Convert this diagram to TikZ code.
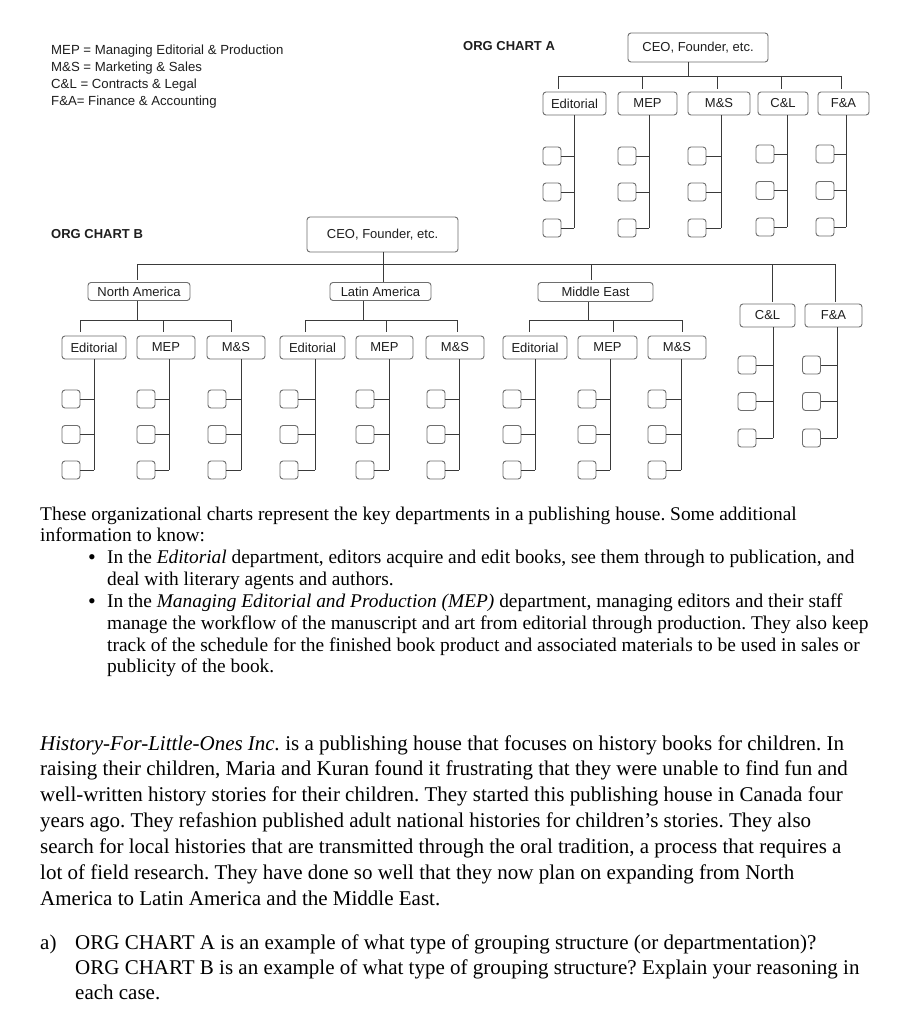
\documentclass[tikz,border=0pt]{standalone}
\usepackage{fontspec}
\setmainfont{Liberation Serif}
\newfontfamily\diagfont{Liberation Sans}
\frenchspacing
\definecolor{boxgray}{HTML}{6E6E6E}
\definecolor{linegray}{HTML}{3A3A3A}
\definecolor{inkgray}{HTML}{1E1E1E}
\tikzset{
  x=1pt, y=1pt,
  box/.style={draw=boxgray, rounded corners=3pt, line width=0.9pt, inner sep=0pt,
    font=\diagfont\fontsize{13}{14}\selectfont, text=inkgray},
  staffbox/.style={draw=boxgray, rounded corners=3pt, line width=0.9pt, inner sep=0pt,
    minimum width=18pt, minimum height=18pt},
  conn/.style={draw=linegray, line width=0.9pt},
  legend/.style={anchor=base west, inner sep=0pt, text=inkgray,
    font=\diagfont\fontsize{13.2}{14}\selectfont},
  charttitle/.style={anchor=base west, inner sep=0pt, text=inkgray,
    font=\diagfont\bfseries\fontsize{13}{15}\selectfont},
  pone/.style={anchor=base west, inner sep=0pt, font=\frenchspacing\fontsize{19.4}{22}\selectfont},
  ptwo/.style={anchor=base west, inner sep=0pt, font=\frenchspacing\fontsize{21}{26}\selectfont},
  bulletmark/.style={anchor=base west, inner sep=0pt, font=\fontsize{22}{22}\selectfont},
}
% #1 name, #2 x centre, #3 y centre (down), #4 width, #5 height, #6 text
\newcommand\dbox[6]{\node[box, minimum width=#4pt, minimum height=#5pt] (#1) at (#2,-#3) {#6};}
% #1 name, #2 parent, #3 box x centre, #4 trunk x, #5 first row y, #6 step
\newcommand\staffcol[6]{%
  \coordinate (#1-x) at (#4,0);
  \foreach \i in {0,1,2}{
    \node[staffbox] (#1-\i) at (#3,{-(#5+\i*#6)}) {};
    \draw[conn] (#1-\i.east) -- (#1-\i.east -| #1-x);
  }
  \draw[conn] (#2.south -| #1-x) -- (#1-2.east -| #1-x);
}
% tick from bus coordinate #1 down to box #2, stopping #3 pt above it
\newcommand\tick[3]{\draw[conn] (#1) -- ([yshift=#3pt]#2.north -| #1);}
\begin{document}
\begin{tikzpicture}
\useasboundingbox[fill=white] (0,0) rectangle (909,-1024);

% ---------- legend ----------
\node[legend] (l1) at (51,-55) {MEP = Managing Editorial \& Production};
\node[legend] (l2) at (51,-72) {M\&S = Marketing \& Sales};
\node[legend] (l3) at (51,-89) {C\&L = Contracts \& Legal};
\node[legend] (l4) at (51,-106) {F\&A= Finance \& Accounting};

% ---------- ORG CHART A ----------
\node[charttitle] (ta) at (463,-51) {ORG CHART A};
\dbox{aCEO}{698}{47.5}{140}{29}{CEO, Founder, etc.}
\dbox{aEd}{574.5}{103.5}{63}{23}{Editorial}
\dbox{aMEP}{647.5}{103.5}{59}{23}{MEP}
\dbox{aMS}{719}{103.5}{62}{23}{M\&S}
\dbox{aCL}{783}{103.5}{50}{23}{C\&L}
\dbox{aFA}{843.5}{103.5}{51}{23}{F\&A}
\coordinate (aB0) at (688,-76);
\coordinate (aB1) at (558,-76);
\coordinate (aB2) at (642,-76);
\coordinate (aB3) at (717,-76);
\coordinate (aB4) at (781,-76);
\coordinate (aB5) at (841,-76);
\draw[conn] (aCEO.south -| aB0) -- (aB0);
\draw[conn] (aB1) -- (aB5);
\tick{aB1}{aEd}{3}
\tick{aB2}{aMEP}{3}
\tick{aB3}{aMS}{3}
\tick{aB4}{aCL}{3}
\tick{aB5}{aFA}{3}
\staffcol{aEdS}{aEd}{552}{574}{156}{36}
\staffcol{aMEPS}{aMEP}{627}{649}{156}{36}
\staffcol{aMSS}{aMS}{697}{721}{156}{36}
\staffcol{aCLS}{aCL}{765}{787}{154}{36.5}
\staffcol{aFAS}{aFA}{825}{846}{154}{36.5}

% ---------- ORG CHART B ----------
\node[charttitle] (tb) at (51,-238) {ORG CHART B};
\dbox{bCEO}{382.5}{234.5}{151}{35}{CEO, Founder, etc.}
\dbox{bNA}{139}{291.5}{102}{18}{North America}
\dbox{bLA}{380.5}{291.5}{101}{18}{Latin America}
\dbox{bME}{595.5}{292}{115}{19}{Middle East}
\dbox{bCL}{767.5}{315.5}{55}{23}{C\&L}
\dbox{bFA}{833.5}{315.5}{57}{23}{F\&A}
\coordinate (bB0) at (383,-264);
\coordinate (bB1) at (137,-264);
\coordinate (bB3) at (591,-264);
\coordinate (bB4) at (772,-264);
\coordinate (bB5) at (835,-264);
\draw[conn] (bCEO.south -| bB0) -- (bLA.north -| bB0);
\draw[conn] (bB1) -- (bB5);
\tick{bB1}{bNA}{2}
\tick{bB3}{bME}{2}
\tick{bB4}{bCL}{2}
\tick{bB5}{bFA}{2}

% regional departments
\dbox{naEd}{94}{347.5}{64}{23}{Editorial}
\dbox{naMEP}{166}{347.5}{58}{23}{MEP}
\dbox{naMS}{236}{347.5}{58}{23}{M\&S}
\dbox{laEd}{312.5}{347.5}{65}{23}{Editorial}
\dbox{laMEP}{384.5}{347.5}{57}{23}{MEP}
\dbox{laMS}{455}{347.5}{58}{23}{M\&S}
\dbox{meEd}{535}{347.5}{64}{23}{Editorial}
\dbox{meMEP}{607.5}{347.5}{59}{23}{MEP}
\dbox{meMS}{677}{347.5}{58}{23}{M\&S}

\coordinate (naD) at (137,-320);
\coordinate (naB1) at (80,-320);
\coordinate (naB2) at (163,-320);
\coordinate (naB3) at (231,-320);
\coordinate (laD) at (363,-320);
\coordinate (laB1) at (305,-320);
\coordinate (laB2) at (386,-320);
\coordinate (laB3) at (457,-320);
\coordinate (meD) at (588,-320);
\coordinate (meB1) at (529,-320);
\coordinate (meB2) at (613,-320);
\coordinate (meB3) at (682,-320);
\draw[conn] (bNA.south -| naD) -- (naD);
\draw[conn] (bLA.south -| laD) -- (laD);
\draw[conn] (bME.south -| meD) -- (meD);
\draw[conn] (naB1) -- (naB3);
\draw[conn] (laB1) -- (laB3);
\draw[conn] (meB1) -- (meB3);
\tick{naB1}{naEd}{4}
\tick{naB2}{naMEP}{4}
\tick{naB3}{naMS}{4}
\tick{laB1}{laEd}{4}
\tick{laB2}{laMEP}{4}
\tick{laB3}{laMS}{4}
\tick{meB1}{meEd}{4}
\tick{meB2}{meMEP}{4}
\tick{meB3}{meMS}{4}

\staffcol{naEdS}{naEd}{71}{94}{399}{35.5}
\staffcol{naMEPS}{naMEP}{146}{169}{399}{35.5}
\staffcol{naMSS}{naMS}{217}{241}{399}{35.5}
\staffcol{laEdS}{laEd}{289}{315}{399}{35.5}
\staffcol{laMEPS}{laMEP}{365}{389}{399}{35.5}
\staffcol{laMSS}{laMS}{436}{459}{399}{35.5}
\staffcol{meEdS}{meEd}{512}{535}{399}{35.5}
\staffcol{meMEPS}{meMEP}{587}{610}{399}{35.5}
\staffcol{meMSS}{meMS}{657}{681}{399}{35.5}
\staffcol{bCLS}{bCL}{747}{773}{365}{36.5}
\staffcol{bFAS}{bFA}{811.5}{837}{365}{36.5}

% ---------- text ----------
\node[pone] (p1) at (40,-520) {These organizational charts represent the key departments in a publishing house. Some additional};
\node[pone] (p2) at (40,-541) {information to know:};
\node[bulletmark] (bu1) at (88,-564) {\textbullet};
\node[pone] (p3) at (107,-563) {In the \textit{Editorial} department, editors acquire and edit books, see them through to publication, and};
\node[pone] (p4) at (107,-585) {deal with literary agents and authors.};
\node[bulletmark] (bu2) at (88,-608) {\textbullet};
\node[pone] (p5) at (107,-607) {In the \textit{Managing Editorial and Production (MEP)} department, managing editors and their staff};
\node[pone] (p6) at (107,-629) {manage the workflow of the manuscript and art from editorial through production. They also keep};
\node[pone] (p7) at (107,-651) {track of the schedule for the finished book product and associated materials to be used in sales or};
\node[pone] (p8) at (107,-672) {publicity of the book.};

\node[ptwo] (q1) at (40,-750) {\textit{History-For-Little-Ones Inc.} is a publishing house that focuses on history books for children. In};
\node[ptwo] (q2) at (40,-775) {raising their children, Maria and Kuran found it frustrating that they were unable to find fun and};
\node[ptwo] (q3) at (40,-801) {well-written history stories for their children. They started this publishing house in Canada four};
\node[ptwo] (q4) at (40,-827) {years ago. They refashion published adult national histories for children’s stories. They also};
\node[ptwo] (q5) at (40,-853) {search for local histories that are transmitted through the oral tradition, a process that requires a};
\node[ptwo] (q6) at (40,-879) {lot of field research. They have done so well that they now plan on expanding from North};
\node[ptwo] (q7) at (40,-905) {America to Latin America and the Middle East.};

\node[ptwo] (qa) at (40,-949) {a)};
\node[ptwo] (r1) at (75,-949) {ORG CHART A is an example of what type of grouping structure (or departmentation)?};
\node[ptwo] (r2) at (75,-974) {ORG CHART B is an example of what type of grouping structure? Explain your reasoning in};
\node[ptwo] (r3) at (75,-999) {each case.};
\end{tikzpicture}
\end{document}
